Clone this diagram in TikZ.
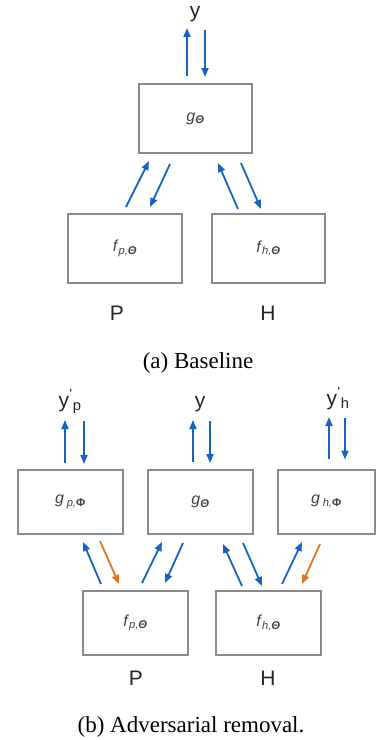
\documentclass[tikz,border=0pt]{standalone}
\usepackage{fontspec}
\setmainfont{Liberation Serif}
\setsansfont{Liberation Sans}
\usetikzlibrary{arrows.meta}
\definecolor{arrblue}{HTML}{1565C0}
\definecolor{arrorange}{HTML}{E3731C}
\definecolor{boxgray}{HTML}{8A8A8A}
\definecolor{txtgray}{HTML}{404040}

\begin{document}
\begin{tikzpicture}[x=1pt,y=-1pt,
		box/.style={draw=boxgray,line width=2pt,inner sep=0pt,minimum height=69pt,font=\sffamily\fontsize{16}{18}\selectfont,text=txtgray},
		lbl/.style={font=\sffamily\fontsize{21}{24}\selectfont,text=black!85,inner sep=0pt},
		captext/.style={font=\fontsize{23}{27}\selectfont,inner sep=0pt},
		blu/.style={arrblue,line width=1.8pt,-{Triangle[length=9pt,width=7pt]}},
		org/.style={arrorange,line width=1.8pt,-{Triangle[length=9pt,width=7pt]}}]
		\useasboundingbox (0,0) rectangle (377,740);
		% (a) baseline
		\node[lbl,anchor=base] (ya) at (195,17) {y};
		\node[box,minimum width=113pt] (g1) at (195.5,118.5) {\textit{g}\textsubscript{\bfseries\itshape Θ}};
		\node[box,minimum width=114pt] (fp1) at (125,248.5) {\textit{f}\textsubscript{\itshape p,\bfseries Θ}};
		\node[box,minimum width=113pt] (fh1) at (268.5,248.5) {\textit{f}\textsubscript{\itshape h,\bfseries Θ}};
		\node[lbl] (pa) at (117,313) {P};
		\node[lbl] (ha) at (268,313) {H};
		\node[captext] (capa) at (198,363) {(a) Baseline};
		\draw[blu] ([xshift=-8.5pt,yshift=7pt]g1.north) -- ([xshift=-8pt,yshift=-11pt]ya.base);
		\draw[blu] ([xshift=10pt,yshift=-13pt]ya.base) -- ([xshift=9.5pt,yshift=6pt]g1.north);
		\draw[blu] ([xshift=1pt,yshift=6pt]fp1.north) -- ([xshift=-46.5pt,yshift=-7pt]g1.south);
		\draw[blu] ([xshift=-25.5pt,yshift=-10pt]g1.south) -- ([xshift=25pt,yshift=6pt]fp1.north);
		\draw[blu] ([xshift=-30.5pt,yshift=4pt]fh1.north) -- ([xshift=22.5pt,yshift=-9pt]g1.south);
		\draw[blu] ([xshift=45.5pt,yshift=-9pt]g1.south) -- ([xshift=-7.5pt,yshift=4pt]fh1.north);
		% (b) adversarial removal
		\node[lbl,anchor=base] (yp) at (70,407) {y\textsuperscript{'}\textsubscript{p}};
		\node[lbl,anchor=base] (yb) at (200,407) {y};
		\node[lbl,anchor=base] (yh) at (338,405) {y\textsuperscript{'}\textsubscript{h}};
		\node[box,minimum width=105pt,minimum height=64pt] (gp) at (70.5,502) {\textit{g}\,\textsubscript{\itshape p,\upshape\bfseries Φ}};
		\node[box,minimum width=105pt,minimum height=64pt] (g2) at (200.5,502) {\textit{g}\textsubscript{\bfseries\itshape Θ}};
		\node[box,minimum width=97pt,minimum height=64pt] (gh) at (326.5,501.5) {\textit{g}\,\textsubscript{\itshape h,\upshape\bfseries Φ}};
		\node[box,minimum width=105pt,minimum height=64pt] (fp2) at (135.5,623) {\textit{f}\textsubscript{\itshape p,\bfseries Θ}};
		\node[box,minimum width=105pt,minimum height=64pt] (fh2) at (268.5,623) {\textit{f}\textsubscript{\itshape h,\bfseries Θ}};
		\node[lbl] (pb) at (136,678) {P};
		\node[lbl] (hb) at (268,678) {H};
		\node[captext] (capb) at (191,727) {(b) Adversarial removal.};
		\draw[blu] ([xshift=-5.5pt,yshift=6pt]gp.north) -- ([xshift=-5pt,yshift=-13pt]yp.base);
		\draw[blu] ([xshift=14pt,yshift=-14pt]yp.base) -- ([xshift=13.5pt,yshift=5pt]gp.north);
		\draw[blu] ([xshift=-7.5pt,yshift=7pt]g2.north) -- ([xshift=-7pt,yshift=-13pt]yb.base);
		\draw[blu] ([xshift=10pt,yshift=-14pt]yb.base) -- ([xshift=9.5pt,yshift=6pt]g2.north);
		\draw[blu] ([xshift=2.5pt,yshift=10pt]gh.north) -- ([xshift=-9pt,yshift=-12pt]yh.base);
		\draw[blu] ([xshift=7pt,yshift=-13pt]yh.base) -- ([xshift=18.5pt,yshift=9pt]gh.north);
		\draw[blu] ([xshift=-34.5pt,yshift=6pt]fp2.north) -- ([xshift=12.5pt,yshift=-7pt]gp.south);
		\draw[org] ([xshift=29.5pt,yshift=-6pt]gp.south) -- ([xshift=-16.5pt,yshift=6pt]fp2.north);
		\draw[blu] ([xshift=6.5pt,yshift=7pt]fp2.north) -- ([xshift=-38.5pt,yshift=-7pt]g2.south);
		\draw[blu] ([xshift=-17.5pt,yshift=-8pt]g2.south) -- ([xshift=29.5pt,yshift=7pt]fp2.north);
		\draw[blu] ([xshift=-26.5pt,yshift=4pt]fh2.north) -- ([xshift=22.5pt,yshift=-9pt]g2.south);
		\draw[blu] ([xshift=42.5pt,yshift=-8pt]g2.south) -- ([xshift=-6.5pt,yshift=4pt]fh2.north);
		\draw[blu] ([xshift=13.5pt,yshift=6pt]fh2.north) -- ([xshift=-24.5pt,yshift=-7.5pt]gh.south);
		\draw[org] ([xshift=-6.5pt,yshift=-9.5pt]gh.south) -- ([xshift=33.5pt,yshift=6pt]fh2.north);
	\end{tikzpicture}
\end{document}
